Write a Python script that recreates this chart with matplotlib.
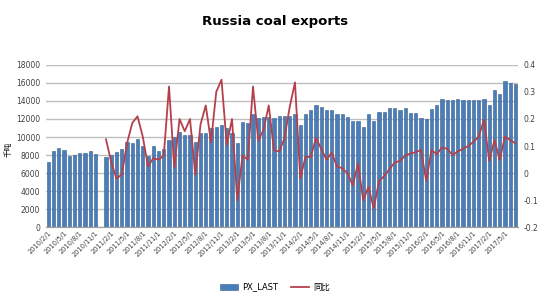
import numpy as np
import pandas as pd
from matplotlib import pyplot as plt

plt.rcParams['font.family'] = ['DejaVu Sans', 'Noto Sans CJK SC']

# monthly categories 2010/2 .. 2017/7
months = pd.date_range('2010-02-01', '2017-07-01', freq='MS')
labels = ['%d/%d/1' % (d.year, d.month) for d in months]

# exports, thousand tonnes (2010/12 missing)
px_last = [7200, 8500, 8750, 8600, 7900, 8000, 8250, 8200, 8500, 8100,
           np.nan,
           7750, 8000, 8300, 8700, 9400, 9300, 9750, 9000, 7900, 9000,
           8500, 8700, 9700, 10000, 10600, 10200, 10200, 9500, 10400, 10400,
           11000, 11100, 11300, 11000, 10500, 9300, 11700, 11600, 12500, 12100,
           12200, 12200, 12100, 12300, 12300, 12300, 12500, 11300, 12500, 13050,
           13600, 13300, 13000, 13000, 12500, 12500, 12250, 11800, 11800, 11100,
           12500, 11800, 12800, 12800, 13200, 13250, 13000, 13250, 12700, 12700,
           12100, 11950, 13100, 13500, 14200, 14100, 14150, 14250, 14150, 14150,
           14100, 14150, 14250, 13500, 15200, 14800, 16200, 16000, 15900]

# year-on-year change
yoy = [np.nan] * 11 + [
    0.125, 0.04, -0.02, -0.005, 0.11, 0.185, 0.21, 0.135, 0.025, 0.055,
    0.05, 0.065, 0.32, 0.02, 0.2, 0.155, 0.2, -0.005, 0.18, 0.25,
    0.115, 0.3, 0.345, 0.105, 0.2, -0.1, 0.065, 0.05, 0.32, 0.12,
    0.16, 0.25, 0.085, 0.08, 0.13, 0.245, 0.335, -0.02, 0.06, 0.06,
    0.13, 0.09, 0.05, 0.075, 0.025, 0.018, 0.0, -0.045, 0.035, -0.1,
    -0.05, -0.13, -0.03, -0.01, 0.015, 0.04, 0.045, 0.065, 0.073, 0.077,
    0.086, -0.028, 0.085, 0.07, 0.095, 0.09, 0.067, 0.08, 0.09, 0.1,
    0.116, 0.135, 0.197, 0.045, 0.122, 0.049, 0.135, 0.122, 0.11]

x = np.arange(len(labels))

fig = plt.figure(figsize=(5.5, 3), dpi=100)
ax = fig.add_axes([0.083, 0.242, 0.859, 0.542])
ax2 = ax.twinx()

bars = ax.bar(x, px_last, width=0.6, color='#4A7EBB', edgecolor='#385D8A',
              linewidth=0.4, label='PX_LAST', zorder=2)
line, = ax2.plot(x, yoy, color='#B5404A', lw=1.3, label='同比')

ax.set_xlim(-0.5, len(x) - 0.5)
ax.set_ylim(0, 18000)
ax.set_yticks(np.arange(0, 18001, 2000))
ax2.set_ylim(-0.2, 0.4)
ax2.set_yticks([-0.2, -0.1, 0, 0.1, 0.2, 0.3, 0.4])
ax2.set_yticklabels(['-0.2', '-0.1', '0', '0.1', '0.2', '0.3', '0.4'])

ax.yaxis.grid(True, color='#BFBFBF', lw=1, zorder=0)
ax.set_axisbelow(True)
ax.set_xticks(x[::3])
ax.set_xticklabels(labels[::3], rotation=45, ha='right', va='top',
                   rotation_mode='anchor', fontsize=4.8, color='#404040')
ax.tick_params(axis='x', length=0, pad=2)
ax.tick_params(axis='y', length=0, labelsize=5.5, colors='#404040', pad=4)
ax2.tick_params(axis='y', length=0, labelsize=5.5, colors='#404040', pad=4)

for a in (ax, ax2):
    a.spines['top'].set_visible(False)
    a.spines['left'].set_visible(False)
    a.spines['right'].set_visible(False)
    a.spines['bottom'].set_color('#A0A0A0')

ax.set_ylabel('千吨', fontsize=5.5, labelpad=2,
              family=['Noto Sans CJK SC', 'DejaVu Sans'])
ax.yaxis.set_label_coords(-0.07, 0.48)

fig.suptitle('Russia coal exports', fontsize=9.5, fontweight='bold', y=0.95)

fig.legend([bars, line], ['PX_LAST', '同比'], loc='center', ncol=2,
           bbox_to_anchor=(0.5, 0.043), frameon=False, fontsize=6,
           handlelength=2.2, handletextpad=0.5, columnspacing=1.5)

plt.savefig('out.png', dpi=100)
